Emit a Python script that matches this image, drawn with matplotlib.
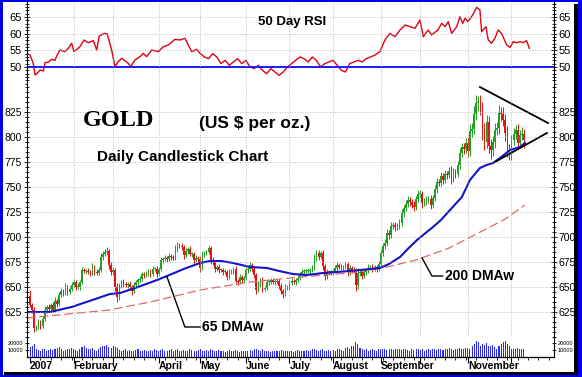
import numpy as np
import pandas as pd
import matplotlib
matplotlib.use('Agg')
import matplotlib.pyplot as plt
from matplotlib.patches import Rectangle
from matplotlib.ticker import MultipleLocator, FixedLocator

# ---- data ----
holidays = ['2007-01-15', '2007-02-19', '2007-04-06', '2007-05-28',
            '2007-07-04', '2007-09-03', '2007-11-22']
open0 = 641
close = [
    632, 627, 609, 610, 615, 611, 618, 627, 630, 628, 632, 627, 636, 633, 642, 646, 644, 650, 645, 648, 652,
    655, 650, 650, 655, 667, 666, 666, 665, 664, 670, 665, 664, 667, 680, 683, 685, 686, 672, 665,
    667, 650, 640, 651, 655, 653, 652, 653, 650, 646, 652, 655, 657, 658, 663, 662, 663, 666, 663, 668, 668, 663,
    668, 677, 678, 679, 678, 681, 680, 679, 688, 692, 691, 690, 682, 686, 688, 683, 683, 677, 679, 678,
    669, 683, 684, 685, 689, 677, 675, 668, 670, 667, 667, 665, 665, 660, 665, 666, 668, 656, 655, 660, 657, 659,
    667, 668, 672, 668, 662, 647, 653, 657, 648, 649, 655, 655, 657, 655, 655, 656, 651, 646, 643, 650, 650,
    654, 656, 655, 657, 659, 663, 665, 666, 666, 666, 667, 669, 679, 684, 680, 684, 671, 661, 665, 665, 665,
    666, 669, 672, 670, 670, 670, 673, 665, 669, 667, 666, 652, 664, 665, 661, 665, 666, 670, 670, 668, 670, 668, 673,
    684, 691, 694, 704, 702, 711, 712, 710, 711, 714, 724, 729, 733, 737, 735, 732, 730, 738, 743,
    743, 734, 735, 738, 738, 732, 739, 748, 755, 754, 761, 757, 763, 762, 766, 759, 765, 763, 772, 784, 790, 788, 794,
    786, 806, 808, 823, 834, 835, 829, 806, 795, 815, 791, 787, 795, 807, 809, 824, 823, 817, 804, 787, 783,
    797, 803, 807, 794, 802, 803, 797,
]
wick_up = [
    6, 2, 3, 2, 3, 2, 3, 4, 2, 3, 2, 3, 4, 2, 3, 3, 2, 4, 2, 3, 3,
    3, 2, 4, 2, 3, 2, 2, 3, 2, 4, 2, 3, 3, 4, 3, 3, 4, 2, 3,
    3, 2, 4, 3, 2, 3, 2, 2, 3, 2, 3, 2, 2, 3, 2, 2, 3, 2, 2, 3, 2, 3,
    2, 3, 2, 3, 2, 3, 2, 2, 4, 3, 2, 3, 2, 3, 2, 3, 2, 2, 3, 2,
    3, 3, 2, 2, 3, 2, 3, 2, 2, 3, 2, 2, 3, 2, 3, 2, 2, 3, 2, 3, 2, 2,
    3, 2, 3, 2, 3, 2, 3, 2, 3, 2, 2, 3, 2, 2, 3, 2, 2, 3, 2, 3, 2,
    2, 3, 2, 2, 3, 2, 3, 2, 2, 3, 2, 3, 4, 3, 3, 2, 3, 2, 3, 2, 2,
    2, 3, 3, 2, 3, 2, 3, 2, 3, 2, 3, 3, 5, 3, 2, 3, 2, 3, 2, 3, 2, 2, 3,
    4, 3, 4, 4, 3, 4, 3, 3, 3, 4, 4, 3, 4, 4, 3, 3, 4, 3, 4,
    4, 3, 4, 3, 3, 4, 3, 4, 4, 3, 4, 3, 4, 3, 4, 5, 4, 3, 4, 5, 4, 4, 5,
    6, 7, 6, 8, 8, 6, 7, 6, 8, 7, 6, 7, 6, 7, 6, 8, 6, 7, 6, 7, 6,
    5, 6, 5, 6, 5, 7, 5,
]
wick_dn = [
    2, 3, 4, 3, 2, 3, 2, 2, 3, 2, 3, 2, 2, 3, 2, 2, 3, 2, 3, 2, 2,
    2, 3, 2, 3, 2, 2, 3, 2, 3, 2, 3, 2, 2, 2, 3, 2, 3, 4, 3,
    3, 4, 5, 3, 2, 3, 2, 3, 3, 4, 2, 2, 3, 2, 2, 3, 2, 2, 3, 2, 2, 3,
    2, 2, 3, 2, 3, 2, 3, 2, 2, 3, 2, 3, 4, 2, 3, 2, 3, 3, 2, 3,
    4, 2, 3, 2, 2, 4, 3, 3, 2, 3, 2, 3, 2, 3, 2, 2, 3, 3, 3, 2, 3, 2,
    2, 3, 2, 3, 3, 4, 2, 3, 3, 2, 2, 3, 2, 2, 3, 2, 3, 3, 4, 2, 3,
    3, 2, 2, 3, 2, 2, 3, 2, 2, 2, 3, 2, 2, 3, 3, 2, 4, 4, 3, 2, 3,
    3, 2, 3, 2, 3, 3, 2, 4, 3, 3, 2, 6, 4, 3, 3, 2, 3, 2, 3, 3, 2, 3, 2,
    2, 3, 3, 3, 4, 3, 3, 4, 3, 3, 3, 4, 3, 3, 4, 3, 4, 3, 3,
    3, 5, 3, 3, 4, 4, 3, 3, 4, 3, 3, 4, 3, 4, 3, 6, 4, 4, 3, 4, 4, 5, 4,
    6, 5, 6, 5, 6, 8, 7, 9, 8, 6, 7, 9, 6, 6, 5, 6, 7, 6, 8, 7, 6,
    6, 5, 5, 6, 5, 5, 8,
]
volume = [  # contracts, thousands
    14, 15, 18, 12, 10, 9, 11, 12, 9, 10, 11, 10, 12, 13, 14, 12, 9, 10, 11, 12, 13,
    12, 10, 9, 11, 14, 16, 13, 11, 12, 13, 10, 9, 12, 14, 16, 15, 17, 14, 13,
    16, 14, 13, 10, 9, 10, 11, 9, 10, 8, 9, 10, 11, 9, 8, 10, 9, 8, 10, 9, 11, 10,
    9, 10, 11, 9, 8, 10, 12, 9, 10, 11, 9, 8, 10, 9, 8, 11, 10, 9, 8, 10,
    11, 9, 8, 10, 9, 12, 10, 9, 8, 10, 9, 8, 7, 9, 10, 8, 9, 10, 8, 7, 9, 8,
    9, 8, 10, 9, 11, 12, 10, 9, 11, 8, 9, 8, 7, 9, 8, 9, 8, 10, 9, 8, 9,
    8, 9, 7, 8, 10, 9, 8, 9, 10, 8, 9, 11, 12, 10, 9, 10, 11, 9, 8, 10, 9,
    10, 9, 11, 12, 10, 9, 13, 14, 12, 15, 16, 21, 18, 13, 11, 10, 12, 9, 10, 11, 10, 9, 12,
    12, 11, 12, 10, 11, 12, 10, 11, 12, 11, 10, 11, 12, 10, 9, 11, 10, 11, 12,
    10, 11, 9, 10, 11, 10, 12, 11, 10, 11, 12, 10, 11, 12, 13, 11, 10, 11, 12, 13, 12, 11, 13,
    13, 12, 15, 18, 23, 21, 16, 19, 17, 20, 16, 15, 17, 14, 12, 16, 19, 22, 23, 19, 15,
    11, 12, 11, 13, 12, 11, 12,
]

rsi_idx = [0, 1.5, 2.4, 3.2, 4.8, 6.4, 7.2, 8.8, 10.4, 12, 12.8, 14.4, 16.8, 18.4, 20, 21.2,
           24, 26, 28, 30.5, 32.1, 33.3, 36, 37.2, 39.3, 40.9, 42.5, 44.1, 47.3, 48.5, 50.5,
           53, 54.5, 56.2, 58.6, 61.8, 64.2, 66.6, 69.8, 72.2, 74.6, 77.9, 80.3, 81.9,
           84, 86, 88, 90, 92, 94, 96, 98, 100, 102, 104, 106, 108, 110, 112, 114, 116, 118,
           120, 122, 124, 126, 128, 130, 132, 134, 136, 138, 140, 142, 144, 146, 148, 150,
           152, 154, 156, 158, 160, 162, 164, 166, 168.6, 171, 173.4, 175.8, 178.3, 180.7,
           183.1, 185.5, 187.9, 189.5, 191.9, 193.5, 196.5, 198.4, 200, 201.5, 203.2, 205.6,
           207.2, 208.5, 209.6, 211, 213.3, 215.2, 216.8, 217.6, 219.7, 220.8, 222.4, 224,
           225.6, 227.2, 229.7, 231.3, 232.9, 234.5, 236.1, 237.7, 239.3, 240.6]
rsi_val = [53.6, 51.1, 47.6, 48, 49.1, 48.8, 51.3, 51.5, 52.3, 52, 53.3, 55.1, 54.6, 55.6, 57.1, 54.6,
           56.1, 58.1, 57.3, 57.9, 55.1, 59.3, 60.1, 59.9, 55.1, 50.1, 51.6, 52.6, 51.1, 50.1, 52.1,
           53.1, 54.1, 53.1, 55.1, 54.6, 56.1, 56.6, 58.3, 58.1, 58.6, 54.6, 55.3, 54.1,
           53, 52.5, 54, 53, 51, 52, 50.5, 51.5, 52.5, 51, 52, 50, 49.5, 50.5, 49, 48, 49.5, 48.5,
           47.5, 48.5, 50, 51, 52, 53, 52.5, 51.5, 53, 52, 50, 51, 51.5, 52, 50.5, 49,
           48.5, 51, 51.5, 52, 51.5, 52.5, 53, 53.5, 54.6, 58.1, 60.1, 59.1, 61.1, 62.6,
           62.1, 61.6, 64.1, 59.1, 61.1, 59.6, 61.1, 63.1, 62.1, 63.6, 60.1, 62.1,
           65.1, 63.1, 64.6, 63.6, 65.6, 67.9, 67.1, 60.6, 62.1, 58.1, 57.1, 58.6,
           61.1, 60.1, 56.6, 55.9, 57.6, 57.3, 57.6, 57.3, 57.9, 55.6]

ma65_idx = [-1.5, 9.6, 20, 30, 38.5, 43.3, 52, 61.2, 66, 74, 81.9, 86.7, 92, 97.8, 106, 114.2,
            120, 126.7, 133.4, 141.2, 148, 154.2, 163.8, 168.6, 173, 178.3, 182, 186.5, 190,
            194.2, 198, 202.4, 208.1, 212, 216.8, 220, 223.1, 226.5, 231.3, 236.1, 238.5]
ma65_val = [625, 625, 630, 637, 643, 644, 650, 657, 661, 668, 674, 676, 676, 674, 670, 669,
            666, 663, 662, 664, 665, 666, 668, 669, 673, 680, 688, 697, 703, 710, 717, 727,
            740, 757, 769, 772, 774, 779, 787, 790, 794]
ma200_idx = [-1.5, 38, 58, 82, 106, 130, 154, 170, 186, 202, 217, 229, 238.5]
ma200_val = [619, 627, 635, 647, 655, 660, 664, 669, 677, 689, 705, 718, 732]

# triangle trend lines and label leaders (trading-day index, price)
tri_upper = [(216.8, 850), (249.6, 814)]
tri_lower = [(224, 775), (249.1, 804)]
lead65 = [(66, 660), (74.6, 610), (81.9, 610)]
lead200 = [(188.9, 679), (193.7, 661), (198.8, 661)]

month_labels = ['2007', 'February', '', 'April', 'May', 'June', 'July', 'August',
                'September', '', 'November', '']

# ---- figure ----
W, H = 582, 377
fig = plt.figure(figsize=(W / 100, H / 100), dpi=100, facecolor='white')
plt.rcParams['font.family'] = ['Liberation Sans', 'DejaVu Sans']


def box(x0, y0, x1, y1):
    return [x0 / W, 1 - y1 / H, (x1 - x0) / W, (y1 - y0) / H]


ax_rsi = fig.add_axes(box(27, 2, 554, 84))
ax_px = fig.add_axes(box(27, 84, 554, 338), sharex=ax_rsi)
ax_vol = fig.add_axes(box(27, 338, 554, 357), sharex=ax_rsi)

dates = pd.bdate_range('2007-01-02', '2007-12-11', freq='C', holidays=holidays)
x = np.arange(len(close))
mstart = [i for i in range(len(dates)) if i == 0 or dates[i].month != dates[i - 1].month]

GRID = dict(color='#a8a8a8', lw=0.6, linestyle=(0, (1, 2)))
GREEN, RED = '#1f9e1f', '#e81010'

# RSI
ax_rsi.plot(rsi_idx, rsi_val, color='#e00010', lw=1.0)
ax_rsi.axhline(50, color='#1a1aff', lw=1.4)
ax_rsi.set_ylim(44.9, 69.5)
ax_rsi.yaxis.set_major_locator(FixedLocator([50, 55, 60, 65]))
ax_rsi.yaxis.set_minor_locator(MultipleLocator(1))
for v in [55, 60, 65]:
    ax_rsi.axhline(v, **GRID)

# candles
c = np.array(close, dtype=float)
o = np.concatenate([[open0], c[:-1]])
hi = np.maximum(o, c) + np.array(wick_up)
lo = np.minimum(o, c) - np.array(wick_dn)
col = np.where(c >= o, GREEN, RED)
ax_px.vlines(x, lo, hi, colors=col, lw=0.7)
ax_px.bar(x, np.maximum(np.abs(c - o), 1.0), bottom=np.minimum(o, c), width=0.75,
          color=col, lw=0)
ax_px.plot(ma200_idx, ma200_val, color='#e06a6a', lw=0.9, dashes=(7, 3))
ax_px.plot(ma65_idx, ma65_val, color='#1414c8', lw=1.5)
for seg in (tri_upper, tri_lower):
    ax_px.plot(*zip(*seg), color='black', lw=1.3)
ax_px.plot(*zip(*lead65), color='black', lw=1.0)
ax_px.plot(*zip(*lead200), color='black', lw=1.0)
ax_px.text(83, 610, '65 DMAw', fontsize=10, fontweight='bold', va='center')
ax_px.text(200, 661, '200 DMAw', fontsize=10, fontweight='bold', va='center')
ax_px.set_ylim(599, 853)
ax_px.yaxis.set_major_locator(FixedLocator(list(range(625, 826, 25))))
ax_px.yaxis.set_minor_locator(MultipleLocator(5))
for v in range(625, 850, 25):
    ax_px.axhline(v, **GRID)

# volume
ax_vol.bar(x, np.array(volume) * 1000, width=0.5, color='#2a2aff', lw=0)
ax_vol.set_ylim(0, 27000)
ax_vol.yaxis.set_major_locator(FixedLocator([10000, 20000]))

for ax in (ax_rsi, ax_px, ax_vol):
    ax.set_xlim(-1.5, 252.5)
    ax.tick_params(axis='y', which='both', left=True, right=True, labelleft=True,
                   labelright=True, direction='inout', labelsize=8, width=0.6, pad=1)
    ax.tick_params(axis='y', which='major', length=5)
    ax.tick_params(axis='y', which='minor', length=2.5)
    for s in ('left', 'right'):
        ax.spines[s].set_linewidth(0.8)
    ax.spines['top'].set_visible(False)
    ax.spines['bottom'].set_visible(False)
    if ax is not ax_vol:
        for m in mstart[1:]:
            ax.axvline(m, **GRID)
        ax.tick_params(axis='x', which='both', bottom=False, labelbottom=False)

ax_px.tick_params(axis='y', labelsize=7.5)
ax_rsi.spines['bottom'].set_visible(True)
ax_rsi.spines['bottom'].set(color='#a0a0a0', linestyle=(0, (1, 2)), linewidth=0.6)
ax_vol.tick_params(axis='y', labelsize=4, length=3)
ax_vol.spines['bottom'].set_visible(True)
ax_vol.spines['bottom'].set_linewidth(0.9)
ax_vol.set_xticks(mstart)
ax_vol.set_xticklabels(month_labels, fontsize=7.5, fontweight='bold', ha='left')
ax_vol.xaxis.set_minor_locator(MultipleLocator(5))
ax_vol.tick_params(axis='x', which='major', length=4.5, direction='out', pad=-1.5, width=0.8)
ax_vol.tick_params(axis='x', which='minor', length=2.5, direction='out', width=0.6)

fig.text(292 / W, 1 - 22 / H, '50 Day RSI', fontsize=9.5, fontweight='bold',
         ha='center', va='center')
fig.text(83 / W, 1 - 121 / H, 'GOLD', fontsize=17.5, fontweight='bold',
         family='Liberation Serif', va='center')
fig.text(199 / W, 1 - 124 / H, '(US $ per oz.)', fontsize=12.5, fontweight='bold',
         va='center')
fig.text(97 / W, 1 - 157 / H, 'Daily Candlestick Chart', fontsize=11, fontweight='bold',
         va='center')

# frame
def frame(x0, y0, x1, y1, color):
    fig.patches.append(Rectangle((x0 / W, 1 - y1 / H), (x1 - x0) / W, (y1 - y0) / H,
                                 transform=fig.transFigure, color=color, lw=0, zorder=10))


frame(0, 0, 3, H, '#0000e8')
frame(0, 0, W, 2, '#0000e8')
frame(574, 4, 578, 375, '#000000')
frame(4, 372, 578, 375, '#000000')
frame(578, 0, W, H, '#0000e8')
frame(0, 375, W, H, '#0000e8')

fig.savefig('out.png', dpi=100, facecolor='white')
